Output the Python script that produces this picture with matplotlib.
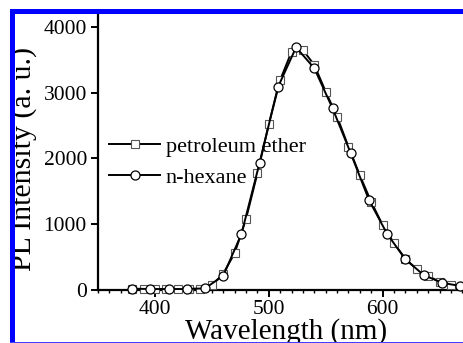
import matplotlib
matplotlib.use("Agg")
import matplotlib.pyplot as plt
from matplotlib.patches import Rectangle
from matplotlib.ticker import MultipleLocator

# Data
wl_pe = [380, 390, 400, 410, 420, 430, 440, 450, 460, 470, 480, 490, 500, 510, 520,
         530, 540, 550, 560, 570, 580, 590, 600, 610, 620, 630, 640, 650, 660]
int_pe = [15, 15, 15, 15, 15, 15, 20, 70, 250, 558, 1080, 1775, 2520, 3194, 3624,
          3650, 3422, 3016, 2636, 2179, 1744, 1338, 989, 710, 475, 315, 213, 126, 76]
wl_hx = [380, 396, 412, 428, 444, 460, 476, 492, 508, 524, 540, 556, 572, 588, 604,
         620, 636, 652, 668]
int_hx = [20, 15, 15, 15, 25, 217, 852, 1939, 3083, 3691, 3372, 2763, 2079, 1369, 852,
          467, 228, 111, 61]
labels = ["petroleum ether", "n-hexane"]
xlabel = "Wavelength (nm)"
ylabel = "PL Intensity (a. u.)"

W, H = 464, 343
plt.rcParams['font.family'] = ['Liberation Serif', 'DejaVu Serif']
fig = plt.figure(figsize=(W / 100, H / 100), dpi=100)

def fx(px):
    return px / W

def fy(py):
    return 1 - py / H

ax_l, ax_r, ax_t, ax_b = 98, 464, 11, 290
ax = fig.add_axes([fx(ax_l), fy(ax_b), fx(ax_r - ax_l), (ax_b - ax_t) / H])
ax.set_xlim(350, 350 + (ax_r - ax_l) / 1.1385)
ax.set_ylim(0, (ax_b - ax_t) / 0.06575)

ax.plot(wl_pe, int_pe, color='black', lw=1.4, marker='s', ms=5.2, mfc='white',
        mec='#555555', mew=0.8, label=labels[0], clip_on=False, zorder=3)
ax.plot(wl_hx, int_hx, color='black', lw=1.4, marker='o', ms=6.5, mfc='white',
        mec='black', mew=0.9, label=labels[1], clip_on=False, zorder=4)

for s in ['top', 'right']:
    ax.spines[s].set_visible(False)
for s in ['left', 'bottom']:
    ax.spines[s].set_linewidth(1.6)

ax.xaxis.set_major_locator(MultipleLocator(100))
ax.xaxis.set_minor_locator(MultipleLocator(10))
ax.yaxis.set_major_locator(MultipleLocator(1000))
ax.tick_params(axis='both', which='major', direction='out', length=5, width=1.4,
               labelsize=15.5, pad=3)
ax.tick_params(axis='x', which='major', pad=2)
ax.tick_params(axis='x', which='minor', direction='out', length=2.5, width=1.0)

leg = ax.legend(loc='center left', bbox_to_anchor=(fx(109), fy(162)),
                bbox_transform=fig.transFigure, frameon=False, fontsize=16,
                handlelength=2.3, handletextpad=0.25, labelspacing=0.45,
                borderpad=0, borderaxespad=0)

fig.text(fx(24), fy(159), ylabel, rotation=90, ha='center', va='center', fontsize=21.5)
fig.text(fx(286), fy(339), xlabel, ha='center', va='baseline', fontsize=21)

# border / crop decorations
fig.add_artist(Rectangle((0, 0), 1, fy(341.5), transform=fig.transFigure,
                         facecolor='white', edgecolor='none', zorder=20))
fig.add_artist(Rectangle((0, 0), fx(10), 1, transform=fig.transFigure,
                         facecolor='white', edgecolor='none', zorder=20))
fig.add_artist(Rectangle((0, fy(9)), 1, 9 / H, transform=fig.transFigure,
                         facecolor='white', edgecolor='none', zorder=20))
fig.add_artist(Rectangle((fx(10), fy(14)), 1, 5 / H, transform=fig.transFigure,
                         facecolor='#0000ff', edgecolor='none', zorder=21))
fig.add_artist(Rectangle((fx(10), fy(342.5)), fx(5.3), (342.5 - 9) / H,
                         transform=fig.transFigure,
                         facecolor='#0000ff', edgecolor='none', zorder=21))
fig.add_artist(Rectangle((fx(10), fy(343)), 1, 1.3 / H, transform=fig.transFigure,
                         facecolor='#4040ff', edgecolor='none', zorder=21))

fig.savefig("out.png", dpi=100)
